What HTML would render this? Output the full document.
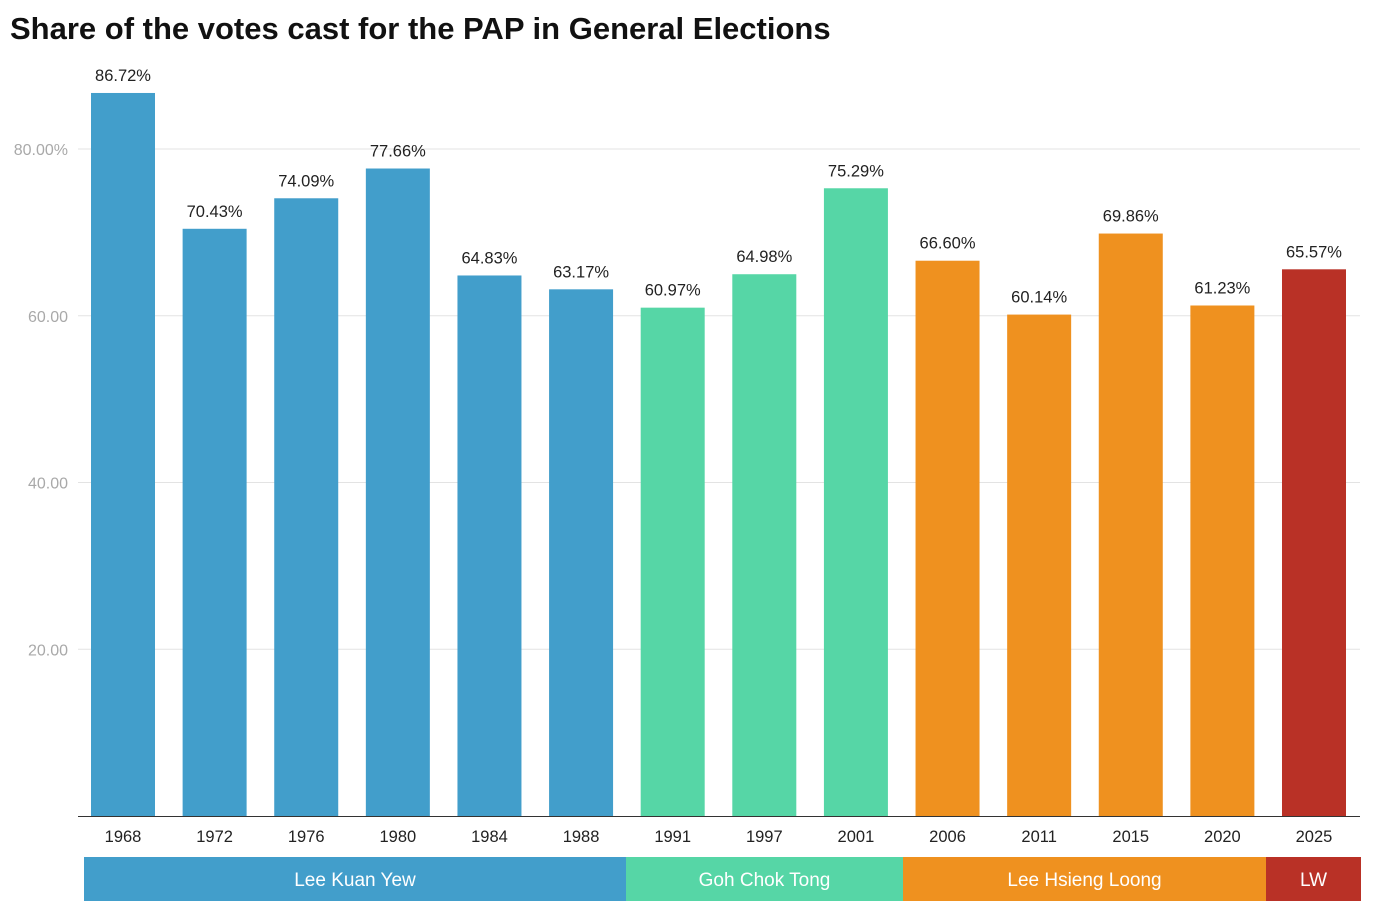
<!DOCTYPE html>
<html><head><meta charset="utf-8"><style>
body{margin:0;background:#fff;font-family:"Liberation Sans",sans-serif;}
#wrap{position:relative;width:1376px;height:918px;overflow:hidden;}
h1{position:absolute;left:10px;top:11px;margin:0;font-size:31px;font-weight:bold;color:#111;letter-spacing:0;}
</style></head><body>
<div id="wrap">
<h1>Share of the votes cast for the PAP in General Elections</h1>
<svg id="chart" width="1376" height="918" style="position:absolute;left:0;top:0"></svg>
</div>
<script>
const years=["1968","1972","1976","1980","1984","1988","1991","1997","2001","2006","2011","2015","2020","2025"];
const values=[86.72,70.43,74.09,77.66,64.83,63.17,60.97,64.98,75.29,66.60,60.14,69.86,61.23,65.57];
const leaders=["LKY","LKY","LKY","LKY","LKY","LKY","GCT","GCT","GCT","LHL","LHL","LHL","LHL","LW"];
const yTicks=[20,40,60,80];
const yTickLabels=["20.00","40.00","60.00","80.00%"];
const bands=[["Lee Kuan Yew",84,626,"#429ecb"],["Goh Chok Tong",626,903,"#56d6a6"],["Lee Hsieng Loong",903,1266,"#ef911f"],["LW",1266,1361,"#b93126"]];
const colors={LKY:"#429ecb",GCT:"#56d6a6",LHL:"#ef911f",LW:"#b93126"};
const NS="http://www.w3.org/2000/svg";
const svg=document.getElementById("chart");
const y=v=>816-v*8.3375;
const x=i=>123+i*91.615;
function mk(t,a,txt){const e=document.createElementNS(NS,t);for(const k in a)e.setAttribute(k,a[k]);if(txt!==undefined)e.textContent=txt;svg.appendChild(e);return e;}
yTicks.forEach((t,i)=>{
 const g=mk("line",{x1:78,x2:1360,y1:y(t),y2:y(t),stroke:"#e3e3e3","stroke-width":1});
 
 
 const l=mk("text",{x:68,y:y(t)+6,"text-anchor":"end","font-size":16,fill:"#a9a9a9"},yTickLabels[i]);
 
 
});
values.forEach((v,i)=>{
 const b=mk("rect",{x:x(i)-32,y:y(v),width:64,height:816-y(v),fill:colors[leaders[i]]});
 
 
 const l=mk("text",{x:x(i),y:y(v)-12,"text-anchor":"middle","font-size":16.5,fill:"#222"},v.toFixed(2)+"%");
 
 
 const t=mk("text",{x:x(i),y:842,"text-anchor":"middle","font-size":16.5,fill:"#222"},years[i]);
 
 
});
const ax=mk("line",{x1:78,x2:1360,y1:816.5,y2:816.5,stroke:"#333","stroke-width":1});


bands.forEach(b=>{
 const r=mk("rect",{x:b[1],y:857,width:b[2]-b[1],height:44,fill:b[3]});
 
 
 const t=mk("text",{x:(b[1]+b[2])/2,y:886,"text-anchor":"middle","font-size":19,fill:"#fff"},b[0]);
 
 
});
</script>
</body></html>
